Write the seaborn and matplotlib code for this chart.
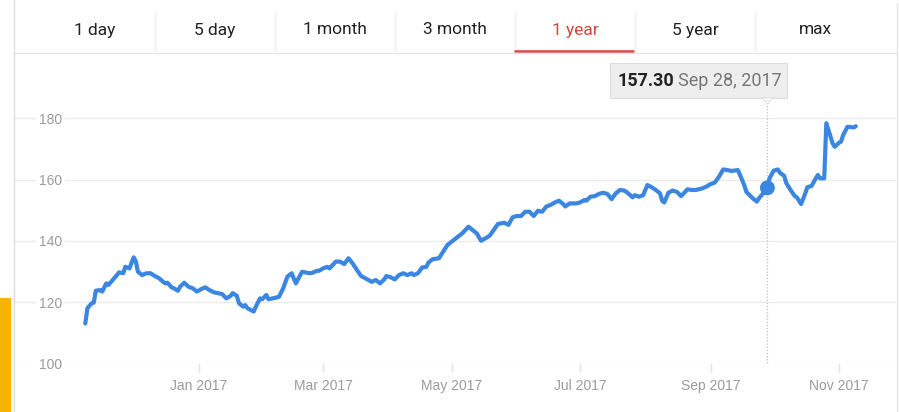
import pandas as pd
import matplotlib.pyplot as plt
import matplotlib.dates as mdates
from matplotlib.lines import Line2D
from matplotlib.patches import Rectangle, Polygon
import seaborn as sns

# price history (one year, Nov 2016 - Nov 2017)
dates = [
    "2016-11-08", "2016-11-09", "2016-11-11", "2016-11-12", "2016-11-13", "2016-11-15", "2016-11-16",
    "2016-11-18", "2016-11-19", "2016-11-21", "2016-11-23", "2016-11-24", "2016-11-26", "2016-11-27",
    "2016-11-29", "2016-11-30", "2016-12-01", "2016-12-02", "2016-12-03", "2016-12-05", "2016-12-07",
    "2016-12-09", "2016-12-11", "2016-12-13", "2016-12-15", "2016-12-16", "2016-12-17", "2016-12-19",
    "2016-12-20", "2016-12-22", "2016-12-23", "2016-12-25", "2016-12-27", "2016-12-29", "2016-12-31",
    "2017-01-02", "2017-01-04", "2017-01-06", "2017-01-08", "2017-01-10", "2017-01-12", "2017-01-14",
    "2017-01-16", "2017-01-17", "2017-01-19", "2017-01-20", "2017-01-22", "2017-01-23", "2017-01-24",
    "2017-01-27", "2017-01-28", "2017-01-30", "2017-01-31", "2017-02-02", "2017-02-03", "2017-02-05",
    "2017-02-08", "2017-02-10", "2017-02-12", "2017-02-14", "2017-02-16", "2017-02-17", "2017-02-19",
    "2017-02-21", "2017-02-23", "2017-02-24", "2017-02-26", "2017-02-27", "2017-03-01", "2017-03-03",
    "2017-03-04", "2017-03-07", "2017-03-09", "2017-03-11", "2017-03-13", "2017-03-15", "2017-03-17",
    "2017-03-19", "2017-03-22", "2017-03-24", "2017-03-26", "2017-03-28", "2017-03-30", "2017-03-31",
    "2017-04-02", "2017-04-04", "2017-04-06", "2017-04-08", "2017-04-10", "2017-04-12", "2017-04-13",
    "2017-04-15", "2017-04-17", "2017-04-19", "2017-04-20", "2017-04-22", "2017-04-25", "2017-04-26",
    "2017-04-29", "2017-05-01", "2017-05-03", "2017-05-06", "2017-05-09", "2017-05-11", "2017-05-13",
    "2017-05-15", "2017-05-17", "2017-05-19", "2017-05-21", "2017-05-23", "2017-05-26", "2017-05-28",
    "2017-05-30", "2017-06-01", "2017-06-03", "2017-06-05", "2017-06-07", "2017-06-09", "2017-06-11",
    "2017-06-13", "2017-06-15", "2017-06-17", "2017-06-19", "2017-06-21", "2017-06-23", "2017-06-24",
    "2017-06-26", "2017-06-29", "2017-07-01", "2017-07-03", "2017-07-04", "2017-07-06", "2017-07-08",
    "2017-07-10", "2017-07-12", "2017-07-14", "2017-07-16", "2017-07-18", "2017-07-20", "2017-07-22",
    "2017-07-23", "2017-07-26", "2017-07-27", "2017-07-29", "2017-07-31", "2017-08-02", "2017-08-04",
    "2017-08-06", "2017-08-08", "2017-08-09", "2017-08-10", "2017-08-12", "2017-08-14", "2017-08-16",
    "2017-08-18", "2017-08-19", "2017-08-21", "2017-08-23", "2017-08-25", "2017-08-28", "2017-08-30",
    "2017-09-01", "2017-09-03", "2017-09-05", "2017-09-07", "2017-09-09", "2017-09-11", "2017-09-14",
    "2017-09-15", "2017-09-17", "2017-09-18", "2017-09-20", "2017-09-21", "2017-09-23", "2017-09-24",
    "2017-09-26", "2017-09-28", "2017-09-29", "2017-10-01", "2017-10-03", "2017-10-04", "2017-10-06",
    "2017-10-07", "2017-10-09", "2017-10-11", "2017-10-12", "2017-10-14", "2017-10-16", "2017-10-17",
    "2017-10-19", "2017-10-21", "2017-10-22", "2017-10-23", "2017-10-25", "2017-10-26", "2017-10-28",
    "2017-10-29", "2017-10-30", "2017-11-01", "2017-11-02", "2017-11-03", "2017-11-05", "2017-11-06",
    "2017-11-08", "2017-11-09",
]
prices = [
    113.0, 118.0, 119.6, 119.8, 123.7, 123.9, 123.4,
    126.1, 125.6, 127.2, 128.8, 129.7, 129.4, 131.5,
    131.0, 132.9, 134.6, 133.2, 129.9, 128.8, 129.4,
    129.4, 128.5, 127.8, 126.6, 126.1, 126.3, 124.8,
    124.5, 123.7, 125.0, 126.3, 125.0, 124.5, 123.4,
    124.2, 124.8, 123.9, 123.2, 122.9, 122.6, 121.2,
    122.0, 122.9, 122.0, 119.6, 118.5, 119.0, 118.0,
    116.9, 118.5, 121.2, 120.9, 122.3, 120.9, 121.2,
    121.7, 124.5, 128.3, 129.4, 126.1, 127.4, 129.9,
    129.6, 129.4, 129.6, 130.2, 130.2, 131.0, 131.5,
    131.0, 133.2, 133.2, 132.4, 134.3, 132.6, 130.5,
    128.5, 127.4, 126.6, 127.2, 126.1, 127.4, 128.5,
    128.1, 127.4, 128.8, 129.4, 128.8, 129.4, 128.8,
    129.4, 131.3, 131.5, 132.9, 134.0, 134.3, 135.4,
    138.6, 139.7, 140.8, 142.4, 144.6, 143.5, 142.4,
    140.0, 140.8, 141.6, 143.5, 145.5, 145.9, 145.2,
    147.7, 148.1, 148.1, 149.5, 149.5, 148.1, 149.8,
    149.5, 151.2, 151.7, 152.5, 153.1, 152.0, 151.2,
    152.2, 152.2, 152.5, 153.3, 153.1, 154.4, 154.6,
    155.3, 155.7, 155.3, 153.6, 155.5, 156.6, 156.4,
    156.0, 154.2, 154.9, 154.4, 154.9, 158.2, 157.5,
    156.6, 155.5, 153.1, 152.5, 155.7, 156.4, 156.0,
    154.6, 155.3, 156.8, 156.6, 156.6, 157.1, 157.7,
    158.5, 159.0, 160.9, 163.3, 163.1, 162.8, 163.1,
    161.5, 158.2, 156.0, 154.6, 153.9, 152.8, 153.9,
    155.5, 157.3, 160.4, 162.9, 163.3, 162.2, 161.2,
    158.8, 156.6, 154.6, 154.2, 152.0, 155.5, 157.5,
    157.9, 160.4, 161.5, 160.4, 160.4, 178.4, 174.0,
    171.8, 170.7, 172.0, 172.4, 174.5, 177.2, 177.2,
    177.0, 177.4,
]

tab_labels = ["1 day", "5 day", "1 month", "3 month", "1 year", "5 year", "max"]
active_tab = "1 year"

y_ticks = [100, 120, 140, 160, 180]
x_tick_dates = ["2017-01-01", "2017-03-01", "2017-05-01", "2017-07-01", "2017-09-01", "2017-11-01"]
x_tick_labels = ["Jan 2017", "Mar 2017", "May 2017", "Jul 2017", "Sep 2017", "Nov 2017"]

hover_date = "2017-09-28"
hover_price = 157.30
hover_text = "Sep 28, 2017"

W, H = 899, 412
BLUE = "#3a86e0"
GRID = "#ebebeb"
LABEL_GREY = "#9b9b9b"

sns.set_style("white")
plt.rcParams["font.family"] = ["Liberation Sans", "DejaVu Sans"]


def fx(x):
    return x / W


def fy(y):
    return 1 - y / H


fig = plt.figure(figsize=(W / 100, H / 100), dpi=100)
fig.patch.set_facecolor("white")

# ---- chart area ----
ax_left, ax_right, ax_top, ax_bottom = 15, 896, 105, 363.3
ax = fig.add_axes([fx(ax_left), fy(ax_bottom), (ax_right - ax_left) / W, (ax_bottom - ax_top) / H])

df = pd.DataFrame({"date": pd.to_datetime(dates), "price": prices})
sns.lineplot(data=df, x="date", y="price", ax=ax, color=BLUE, linewidth=3.0,
             solid_joinstyle="round", solid_capstyle="round", zorder=3)

jan1 = mdates.date2num(pd.Timestamp("2017-01-01"))
ax.set_xlim(jan1 - 87.4, jan1 + 331.1)
ax.set_ylim(100, 100 + (ax_bottom - ax_top) / 3.0625)

for s in ax.spines.values():
    s.set_visible(False)
ax.set_xlabel("")
ax.set_ylabel("")

ax.set_yticks(y_ticks)
ax.set_yticklabels([str(v) for v in y_ticks])
ax.yaxis.grid(True, color=GRID, linewidth=1)
ax.xaxis.grid(False)
ax.tick_params(axis="y", length=0, pad=-34, labelsize=10, labelcolor=LABEL_GREY)
for lbl in ax.get_yticklabels():
    lbl.set_bbox(dict(facecolor="white", edgecolor="none", pad=2))

ax.set_xticks(pd.to_datetime(x_tick_dates))
ax.set_xticklabels(x_tick_labels)
ax.tick_params(axis="x", direction="out", length=6.5, width=1, color="#e3e3e3",
               pad=5, labelsize=10, labelcolor=LABEL_GREY, bottom=True)

# hover marker + dotted guide
hx = mdates.date2num(pd.Timestamp(hover_date))
ax.scatter([hx], [hover_price], s=115, color=BLUE, zorder=5, edgecolor="none")
ax.axvline(hx, ymin=0, ymax=(ax_bottom - 98) / (ax_bottom - ax_top), color="#bdbdbd",
           linewidth=0.9, linestyle=(0, (1, 1.5)), clip_on=False, zorder=2)

# tooltip box positioned from the hover point
fig.canvas.draw()
renderer = fig.canvas.get_renderer()
hx_px = ax.transData.transform((hx, hover_price))[0]
box_l, box_r, box_t, box_b = hx_px - 157, hx_px + 20, 63, 98
fig.patches.append(Rectangle((fx(box_l), fy(box_b)), (box_r - box_l) / W, (box_b - box_t) / H,
                             transform=fig.transFigure, facecolor="#eeeeee", edgecolor="#dcdcdc",
                             linewidth=0.8, zorder=4))
fig.patches.append(Polygon([(fx(hx_px - 6), fy(box_b - 0.5)), (fx(hx_px + 6), fy(box_b - 0.5)),
                            (fx(hx_px), fy(box_b + 6))], closed=True, transform=fig.transFigure,
                           facecolor="#f4f4f4", edgecolor="#dcdcdc", linewidth=0.6, zorder=4))
t1 = fig.text(fx(box_l + 7), fy(80.5), f"{hover_price:.2f}", family=["Roboto", "DejaVu Sans"],
              fontsize=13, fontweight="bold", color="#222222", ha="left", va="center", zorder=5)
t1_right = t1.get_window_extent(renderer).x1
fig.text((t1_right + 4) / W, fy(80.5), hover_text, family=["Roboto", "DejaVu Sans"],
         fontsize=13, color="#777777", ha="left", va="center", zorder=5)

# ---- tab bar ----
tab_start, tab_w = 35, 120
for i, name in enumerate(tab_labels):
    cx = tab_start + tab_w * (i + 0.5)
    active = name == active_tab
    fig.text(fx(cx), fy(30), name, family=["Roboto", "DejaVu Sans"], fontsize=12.5,
             color="#d0453c" if active else "#222222", ha="center", va="center")
    if i > 0:
        sx = tab_start + tab_w * i
        fig.lines.append(Line2D([fx(sx), fx(sx)], [fy(12), fy(52)], transform=fig.transFigure,
                                color="#efefef", linewidth=1))
    if active:
        x0 = tab_start + tab_w * i - 1
        fig.lines.append(Line2D([fx(x0), fx(x0 + tab_w)], [fy(51), fy(51)], transform=fig.transFigure,
                                color="#d9534f", linewidth=2, solid_capstyle="butt"))

fig.lines.append(Line2D([fx(14), fx(897)], [fy(53), fy(53)], transform=fig.transFigure,
                        color="#e6e6e6", linewidth=1))

# frame lines + yellow side strip
fig.lines.append(Line2D([fx(14), fx(14)], [0, 1], transform=fig.transFigure, color="#dddddd", linewidth=1))
fig.lines.append(Line2D([fx(897), fx(897)], [0, fy(3)], transform=fig.transFigure, color="#e3e3e3", linewidth=1))
fig.patches.append(Rectangle((0, 0), fx(11), (412 - 298) / H, transform=fig.transFigure,
                             facecolor="#f5b400", edgecolor="none"))

fig.savefig("out.png", dpi=100)
